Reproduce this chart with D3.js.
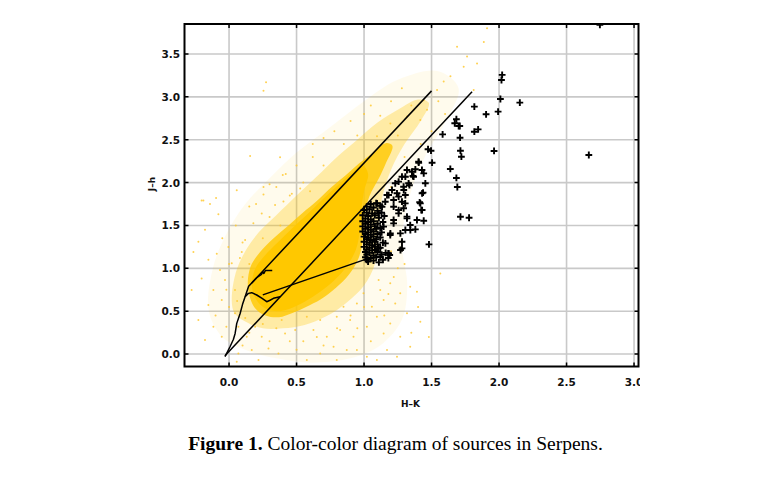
<!DOCTYPE html>
<html>
<head>
<meta charset="utf-8">
<script src="https://cdn.jsdelivr.net/npm/d3@7"></script>
<style>
    body { margin: 0; background: #fff; }
    .tick-label { font-family: "DejaVu Sans", sans-serif; font-weight: bold; font-size: 10.5px; fill: #111; }
    .axis-title { font-family: "DejaVu Sans", sans-serif; font-weight: bold; font-size: 9px; fill: #111; }
    .caption { font-family: "Liberation Serif", "Times New Roman", serif; font-size: 16.5px; fill: #000; }
</style>
</head>
<body>
<svg id="chart" width="780" height="485"></svg>
<script>
const xTicks = [0, 0.5, 1, 1.5, 2, 2.5, 3];
const yTicks = [0, 0.5, 1, 1.5, 2, 2.5, 3, 3.5];

// density outlines of the field-star cloud, outer to inner
const cloudSparse = [[-0.15,0.5],[-0.12,1.0],[-0.02,1.4],[0.12,1.75],[0.3,2.05],[0.5,2.35],[0.75,2.65],[1.0,2.95],[1.25,3.2],[1.55,3.3],[1.7,3.1],[1.6,2.7],[1.45,2.3],[1.33,1.8],[1.28,1.3],[1.32,0.8],[1.28,0.4],[1.12,0.1],[0.9,-0.05],[0.6,-0.1],[0.35,-0.05],[0.12,0.05],[-0.05,0.2]];
const cloudMid = [[0.02,0.62],[0.05,0.95],[0.12,1.2],[0.22,1.42],[0.35,1.62],[0.5,1.85],[0.65,2.07],[0.8,2.3],[0.95,2.5],[1.1,2.7],[1.25,2.85],[1.4,2.97],[1.48,2.93],[1.42,2.72],[1.3,2.45],[1.2,2.15],[1.13,1.8],[1.1,1.4],[1.08,1.05],[1.0,0.8],[0.87,0.6],[0.72,0.44],[0.56,0.34],[0.4,0.3],[0.25,0.3],[0.12,0.38],[0.04,0.48]];
const cloudDense = [[0.14,0.78],[0.16,1.02],[0.23,1.19],[0.33,1.35],[0.44,1.5],[0.54,1.64],[0.66,1.8],[0.76,1.95],[0.86,2.08],[0.96,2.22],[1.06,2.34],[1.16,2.46],[1.21,2.43],[1.16,2.22],[1.11,2.05],[1.04,1.84],[1.0,1.6],[0.99,1.33],[0.96,1.12],[0.89,0.93],[0.79,0.77],[0.68,0.64],[0.57,0.55],[0.47,0.48],[0.37,0.43],[0.27,0.45],[0.19,0.54]];
const cloudCore = [[0.17,0.78],[0.19,0.98],[0.26,1.14],[0.36,1.3],[0.47,1.47],[0.58,1.63],[0.69,1.8],[0.8,1.96],[0.9,2.1],[0.99,2.2],[1.03,2.1],[1.0,1.9],[0.98,1.68],[0.97,1.45],[0.94,1.22],[0.87,1.02],[0.78,0.86],[0.67,0.72],[0.56,0.61],[0.45,0.53],[0.35,0.5],[0.26,0.54],[0.2,0.64]];

const fieldStars = [
    [0.255,3.07],[0.274,3.17],[0.156,2.31],[0.378,2.295],[0.398,2.09],[-0.19,1.79],[-0.096,1.82],[0.255,1.95],[0.057,1.91],
    [-0.203,1.79],[-0.141,1.75],[-0.079,1.63],[0.255,1.86],[-0.178,1.45],[-0.227,1.31],[-0.264,1.19],[-0.153,1.10],
    [-0.091,1.17],[-0.067,0.98],[-0.203,0.88],[-0.277,0.747],[-0.116,0.747],[-0.03,0.864],[0.044,0.747],[-0.054,0.63],
    [-0.153,0.572],[-0.227,0.397],[-0.116,0.319],[-0.054,0.202],[-0.178,0.163],[0.044,0.475],[0.069,0.319],[0.131,0.202],
    [0.193,0.319],[0.242,0.202],[0.069,0.008],[0.168,0.047],[0.292,0.066],[0.366,0.008],[0.415,0.241],[0.39,0.397],
    [0.49,0.28],[0.057,-0.09],[0.218,-0.07],[-0.005,1.25],[0.094,1.19],[0.02,1.058],[0.119,1.33],[0.18,1.525],[0.242,1.64],
    [0.341,1.74],[0.403,1.78],[0.465,1.87],[0.527,1.93],
    [1.108,0.864],[1.194,0.825],[1.268,0.708],[1.392,0.727],[1.565,0.941],[1.145,0.63],[1.231,0.59],[1.058,0.552],
    [1.095,0.436],[1.194,0.358],[1.318,0.475],[1.417,0.378],[1.145,0.241],[1.268,0.202],[1.342,0.085],[1.17,0.047],
    [1.021,-0.03],[1.095,-0.07],[1.244,-0.03],[0.922,0.202],[0.823,0.28],[0.724,0.202],[0.625,0.28],[0.576,0.436],
    [0.675,0.397],[0.798,0.436],[0.897,0.397],[0.947,0.59],[0.848,0.552],[0.774,0.085],[0.872,0.047],[0.675,0.008],
    [0.576,-0.07],[0.798,-0.07],[0.947,0.047],[1.021,0.319],[0.996,0.708],[1.12,0.747],[1.342,0.786],
    [1.911,3.80],[1.887,3.64],[1.837,3.39],[1.763,3.47],[1.689,3.586],[1.64,3.24],[1.59,3.18],[1.541,3.08],[1.738,3.35],
    [1.812,3.08],[1.442,2.96],[1.368,2.85],[1.318,2.77],[1.195,2.69],[1.096,2.54],[1.417,2.73],[1.467,2.85],
    [0.62,2.45],[0.7,2.52],[0.78,2.6],[0.9,2.72],[1.0,2.8],[1.2,2.95],[0.5,2.2],[0.42,2.1],[0.3,1.98],[0.15,1.72],
    [0.05,1.5],[-0.05,1.35],[0.1,1.3],[0.2,1.75],[0.35,1.95],[0.62,2.3],[1.05,2.9],[1.28,3.1],[1.55,2.95],[1.6,2.8],
    [1.5,2.6],[1.42,2.45],[1.25,1.0],[1.2,1.2],[1.3,1.05],[1.05,0.15],[0.95,0.3],[0.7,0.1],[0.5,0.05],[0.45,0.15],
    [0.3,0.15],[0.25,0.35],[0.12,0.42],[-0.1,0.45],[-0.02,0.32],[0.0,0.55],[1.4,0.55],[1.48,0.2],[1.35,0.25],[1.15,0.45],
    [0.0,1.05],[0.08,1.12],[-0.02,0.75],[0.3,1.6],[0.45,1.85],[0.55,2.0],[0.7,2.2],[0.85,2.45],[0.95,2.55],[1.12,2.78],
    [1.35,2.9],[1.25,2.55],[1.3,2.3],[1.2,1.95],[1.22,0.9],[1.18,0.7],[1.0,0.55],[0.9,0.45],[0.8,0.3],[0.65,0.2],
    [0.55,0.15],[0.35,0.3],[0.15,0.25],[0.1,0.1],[0.06,0.62],[0.1,0.9],[0.15,1.05],[0.25,1.35],[0.38,1.5],[0.6,1.9]
];

const crosses = [
    [2.023,3.256],[2.018,3.197],[2.01,2.975],[2.154,2.933],[1.993,2.828],[1.904,2.797],[1.817,2.886],[1.684,2.739],
    [1.672,2.692],[1.701,2.66],[1.845,2.621],[1.817,2.594],[1.582,2.563],[1.711,2.524],[1.474,2.389],[1.496,2.372],
    [1.714,2.372],[1.721,2.302],[1.963,2.369],[1.504,2.232],[1.639,2.159],[1.684,2.054],[1.691,1.949],[1.714,1.602],
    [1.778,1.590],[2.665,2.322],[2.747,3.84],[1.481,1.28],
    [1.405,2.232],[1.38,2.155],[1.442,2.108],[1.367,2.069],[1.454,1.992],[1.306,2.069],[1.33,1.992],[1.43,1.875],
    [1.417,1.758],[1.43,1.68],[1.392,1.564],[1.442,1.555],[1.38,1.455],[1.343,1.447],[1.306,1.447],[1.269,1.408],
    [1.281,1.31],[1.281,1.233],[1.194,1.389],[1.219,1.564],[1.182,1.175],[1.083,1.214],[1.318,1.583],[1.293,1.70],
    [1.256,1.68],[1.219,1.797],[1.281,1.777],[1.244,1.875],[1.306,1.855],[1.293,1.952],[1.355,2.127],[1.256,2.011],
    [1.231,1.992],[1.207,1.914],[1.182,1.855],[1.157,1.777],[1.133,1.719],[1.108,1.642],[1.709,2.66],[1.437,1.883],
    [1.412,1.77],[1.424,1.68],[1.342,1.505],[1.19,1.155],[1.404,2.245],[1.429,2.147],[1.362,2.077],[1.318,2.147],
    [1.281,2.069],[1.336,1.97],[1.17,1.855],[1.096,1.758],[1.294,1.913],[1.305,1.758],[1.256,1.836],[1.219,1.719],
    [1.256,1.641],[1.318,1.603],[1.219,1.525],[1.195,1.408],[1.145,1.486],[1.158,1.291],[1.108,1.233],[1.12,1.135],
    [1.18,1.175],[1.27,1.214],
    [1.05,1.75],[1.09,1.76],[1.02,1.72],[1.07,1.71],[1.12,1.73],[1.00,1.68],[1.04,1.69],[1.10,1.67],[1.02,1.65],
    [1.06,1.64],[1.13,1.65],[0.99,1.62],[1.03,1.61],[1.08,1.62],[1.15,1.61],[1.01,1.58],[1.05,1.57],[1.11,1.59],
    [0.99,1.55],[1.03,1.54],[1.07,1.55],[1.14,1.54],[1.01,1.52],[1.05,1.51],[1.10,1.52],[0.99,1.49],[1.03,1.48],
    [1.08,1.49],[1.12,1.47],[1.01,1.46],[1.05,1.45],[1.09,1.46],[0.99,1.43],[1.03,1.42],[1.07,1.43],[1.13,1.42],
    [1.01,1.40],[1.05,1.39],[1.10,1.40],[1.00,1.37],[1.03,1.36],[1.07,1.37],[1.12,1.36],[1.02,1.34],[1.05,1.33],
    [1.09,1.34],[1.00,1.31],[1.04,1.30],[1.08,1.31],[1.14,1.30],[1.02,1.28],[1.06,1.27],[1.10,1.28],[1.00,1.25],
    [1.04,1.24],[1.08,1.25],[1.12,1.24],[1.02,1.22],[1.06,1.21],[1.01,1.19],[1.04,1.18],[1.10,1.19],[1.16,1.18],
    [1.02,1.16],[1.07,1.15],[1.13,1.16],[1.01,1.13],[1.05,1.12],[1.09,1.13],[1.18,1.12],[1.02,1.10],[1.07,1.09],
    [1.14,1.10],[1.03,1.08],[1.11,1.07]
];

const dwarfBranch = [[-0.03,-0.03],[0.007,0.085],[0.032,0.17],[0.045,0.24],[0.057,0.358],[0.082,0.474],[0.1,0.58],[0.119,0.669],[0.143,0.708],[0.168,0.716],[0.205,0.689],[0.245,0.65],[0.279,0.611],[0.3,0.625],[0.329,0.65],[0.378,0.668]];
const giantBranch = [[0.119,0.669],[0.145,0.79],[0.168,0.83],[0.205,0.89],[0.24,0.93],[0.25,0.96],[0.258,0.94],[0.27,0.975],[0.32,0.975]];
const reddeningUpper = [[0.168,0.83],[1.50,3.07]];
const reddeningLower = [[-0.03,-0.02],[1.80,3.06]];
const cttsLocus = [[0.25,0.69],[1.01,1.105]];

const margin = { left: 184.5, right: 141.5, top: 24, bottom: 118.5 };
const width = 780, height = 485;
const innerW = width - margin.left - margin.right;
const innerH = height - margin.top - margin.bottom;

const x = d3.scaleLinear().domain([-0.33, 3.033]).range([0, innerW]);
const y = d3.scaleLinear().domain([-0.145, 3.85]).range([innerH, 0]);

const svg = d3.select("#chart")
    .attr("viewBox", `0 0 ${width} ${height}`);

svg.append("rect").attr("width", width).attr("height", height).attr("fill", "#fff");

svg.append("defs").append("clipPath")
    .attr("id", "plot-clip")
    .append("rect")
        .attr("width", innerW)
        .attr("height", innerH);

svg.append("clipPath")
    .attr("id", "label-clip")
    .append("rect")
        .attr("x", 0).attr("y", 0)
        .attr("width", margin.left + innerW + 1.5)
        .attr("height", height);

const g = svg.append("g")
    .attr("transform", `translate(${margin.left}, ${margin.top})`);

// grid
g.append("g")
    .selectAll("line")
    .data(xTicks)
    .join("line")
        .attr("x1", d => x(d)).attr("x2", d => x(d))
        .attr("y1", 0).attr("y2", innerH)
        .attr("stroke", "#c9c9c9")
        .attr("stroke-width", 1.6);

g.append("g")
    .selectAll("line")
    .data(yTicks)
    .join("line")
        .attr("x1", 0).attr("x2", innerW)
        .attr("y1", d => y(d)).attr("y2", d => y(d))
        .attr("stroke", "#c9c9c9")
        .attr("stroke-width", 1.6);

const plot = g.append("g").attr("clip-path", "url(#plot-clip)");

let area = d3.line()
    .curve(d3.curveCatmullRomClosed.alpha(0.5))
    .x(d => x(d[0]))
    .y(d => y(d[1]));

let levels = [
    { shape: cloudSparse, opacity: 0.07 },
    { shape: cloudMid, opacity: 0.3 },
    { shape: cloudDense, opacity: 0.8 },
    { shape: cloudCore, opacity: 1 }
];

plot.append("g")
    .selectAll("path")
    .data(levels)
    .join("path")
        .attr("d", d => area(d.shape))
        .attr("fill", "#ffc800")
        .attr("fill-opacity", d => d.opacity);

plot.append("g")
    .selectAll("circle")
    .data(fieldStars)
    .join("circle")
        .attr("cx", d => x(d[0]))
        .attr("cy", d => y(d[1]))
        .attr("r", 1)
        .attr("fill", "#ffc933")
        .attr("fill-opacity", 0.85);

let line = d3.line()
    .x(d => x(d[0]))
    .y(d => y(d[1]));

plot.append("g")
    .selectAll("path")
    .data([dwarfBranch, giantBranch, reddeningUpper, reddeningLower, cttsLocus])
    .join("path")
        .attr("d", line)
        .attr("fill", "none")
        .attr("stroke", "#000")
        .attr("stroke-width", 1.5)
        .attr("stroke-linejoin", "round");

plot.append("g")
    .selectAll("path")
    .data(crosses)
    .join("path")
        .attr("d", d => `M${x(d[0]) - 3.4},${y(d[1])}h6.8M${x(d[0])},${y(d[1]) - 3.4}v6.8`)
        .attr("stroke", "#000")
        .attr("stroke-width", 1.9);

// frame with inward ticks
let ticks = g.append("g").attr("stroke", "#000").attr("stroke-width", 1.5);
ticks.selectAll(".tb").data(xTicks).join("path")
    .attr("class", "tb")
    .attr("d", d => `M${x(d)},0v4M${x(d)},${innerH}v-4`);
ticks.selectAll(".lr").data(yTicks).join("path")
    .attr("class", "lr")
    .attr("d", d => `M0,${y(d)}h4M${innerW},${y(d)}h-4`);

g.append("rect")
    .attr("width", innerW)
    .attr("height", innerH)
    .attr("fill", "none")
    .attr("stroke", "#000")
    .attr("stroke-width", 2);

let fmt = d3.format(".1f");

svg.append("g")
    .attr("clip-path", "url(#label-clip)")
    .selectAll("text")
    .data(xTicks)
    .join("text")
        .attr("class", "tick-label")
        .attr("x", d => margin.left + x(d))
        .attr("y", margin.top + innerH + 19)
        .attr("text-anchor", "middle")
        .text(fmt);

svg.append("g")
    .selectAll("text")
    .data(yTicks)
    .join("text")
        .attr("class", "tick-label")
        .attr("x", margin.left - 4.5)
        .attr("y", d => margin.top + y(d) + 4)
        .attr("text-anchor", "end")
        .text(fmt);

svg.append("text")
    .attr("class", "axis-title")
    .attr("x", 410.5)
    .attr("y", 407)
    .attr("text-anchor", "middle")
    .text("H–K");

svg.append("text")
    .attr("class", "axis-title")
    .attr("transform", "translate(155, 184) rotate(-90)")
    .attr("text-anchor", "middle")
    .text("J–h");

let caption = svg.append("text")
    .attr("class", "caption")
    .attr("x", 395.5)
    .attr("y", 450)
    .attr("text-anchor", "middle");
caption.append("tspan").attr("font-weight", "bold").text("Figure 1.");
caption.append("tspan").text(" Color-color diagram of sources in Serpens.");

// the caption in the figure runs from x = 188 to x = 603
let captionWidth = caption.node().getComputedTextLength();
caption.style("font-size", `${16.5 * 415 / captionWidth}px`);
</script>
</body>
</html>
